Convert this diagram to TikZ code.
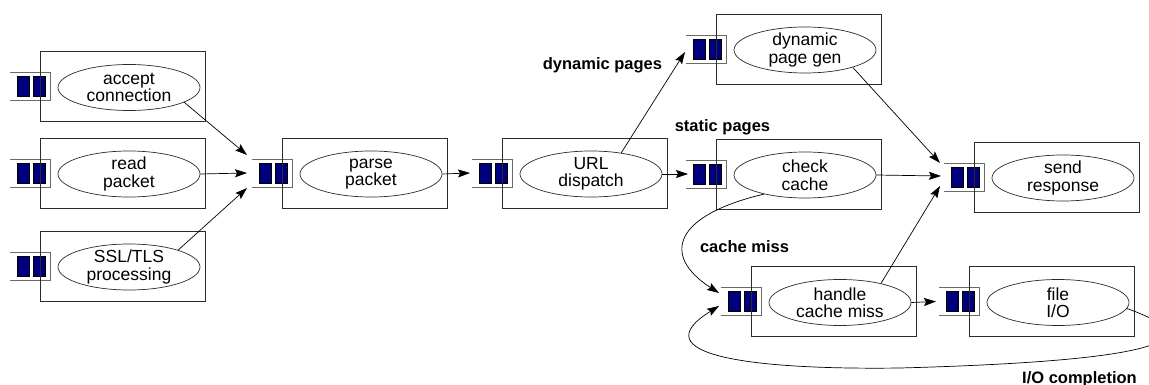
\documentclass[tikz,border=0pt]{standalone}
\usepackage{fontspec}
\setmainfont{Liberation Sans}
\usetikzlibrary{shapes.geometric,arrows.meta}
\definecolor{slotblue}{HTML}{00007F}
\definecolor{boxline}{HTML}{2A2A2A}
\definecolor{qgray}{HTML}{6A6A6A}
\tikzset{
  stagebox/.style={draw=boxline,line width=0.8pt,minimum width=165pt,minimum height=70pt,inner sep=0pt},
  procell/.style={draw=boxline,line width=0.7pt,ellipse,minimum width=142pt,minimum height=46pt,inner sep=0pt},
  proctext/.style={align=center,inner sep=0pt,font=\fontsize{17.5}{17.5}\selectfont},
  qline/.style={draw=qgray,line width=0.8pt},
  qslot/.style={draw=black,fill=slotblue,line width=0.5pt},
  arr/.style={draw=black,line width=0.7pt,-{Stealth[length=12pt,width=8pt,inset=2pt]}},
  elabel/.style={inner sep=0pt,font=\fontsize{16.5}{18}\selectfont\bfseries},
}
\newcommand{\mkstage}[4]{%
  \draw[qline] (#2-30,#3-14) -- (#2+10,#3-14) -- (#2+10,#3+14) -- (#2-30,#3+14);
  \draw[qslot] (#2-23,#3-10) rectangle (#2-11,#3+10);
  \draw[qslot] (#2-7,#3-10) rectangle (#2+5,#3+10);
  \node[stagebox] (#1box) at (#2+82.5,#3) {};
  \node[procell] (#1E) at (#2+89,#3+1) {};
  \node[proctext] (#1T) at (#2+89,#3+1) {#4};
}
\begin{document}
\begin{tikzpicture}[x=1pt,y=-1pt]
\useasboundingbox (0,0) rectangle (1149,385);
\clip (0,0) rectangle (1149,385);
\mkstage{acc}{40}{86.5}{accept\\connection}
\mkstage{read}{40}{173}{read\\packet}
\mkstage{ssl}{40}{266}{SSL/TLS\\processing}
\mkstage{parse}{282}{173}{parse\\packet}
\mkstage{url}{502}{173}{URL\\dispatch}
\mkstage{dyn}{716}{49}{dynamic\\page gen}
\mkstage{check}{716}{174}{check\\cache}
\mkstage{send}{974}{177}{send\\response}
\mkstage{hand}{751}{301.5}{handle\\cache miss}
\mkstage{file}{969}{301.5}{file\\I/O}
% queue entry points
\coordinate (parseNW) at (247,155);
\coordinate (parseW) at (247,173);
\coordinate (parseSW) at (247,188);
\coordinate (urlW) at (470,173);
\coordinate (dynSW) at (685,52);
\coordinate (checkW) at (688,174);
\coordinate (sendNW) at (940,163);
\coordinate (sendW) at (941,176);
\coordinate (sendSW) at (940,186);
\coordinate (fileW) at (936,301.5);
\coordinate (handNW) at (719,293);
\coordinate (handSW) at (719,306);
% connectors
\draw[arr] (accE.-15) -- (parseNW);
\draw[arr] (readE.east) -- (parseW);
\draw[arr] (sslE.19) -- (parseSW);
\draw[arr] (parseE.east) -- (urlW);
\draw[arr] (urlE.35) -- (dynSW);
\draw[arr] (urlE.east) -- (checkW);
\draw[arr] (dynE.-20) -- (sendNW);
\draw[arr] (checkE.east) -- (sendW);
\draw[arr] (handE.25) -- (sendSW);
\draw[arr] (handE.east) -- (fileW);
\draw[arr] (checkE.205) .. controls (675,215) and (660,255) .. (handNW);
\draw[arr] (fileE.-5) .. controls (1230,345) and (1120,362) .. (900,368) .. controls (750,370) and (640,355) .. (handSW);
% labels
\node[elabel] (ldyn) at (602.5,65) {dynamic pages};
\node[elabel] (lstatic) at (722.5,127) {static pages};
\node[elabel] (lmiss) at (744.5,247) {cache miss};
\node[elabel] (lio) at (1079.5,379) {I/O completion};
\end{tikzpicture}
\end{document}
